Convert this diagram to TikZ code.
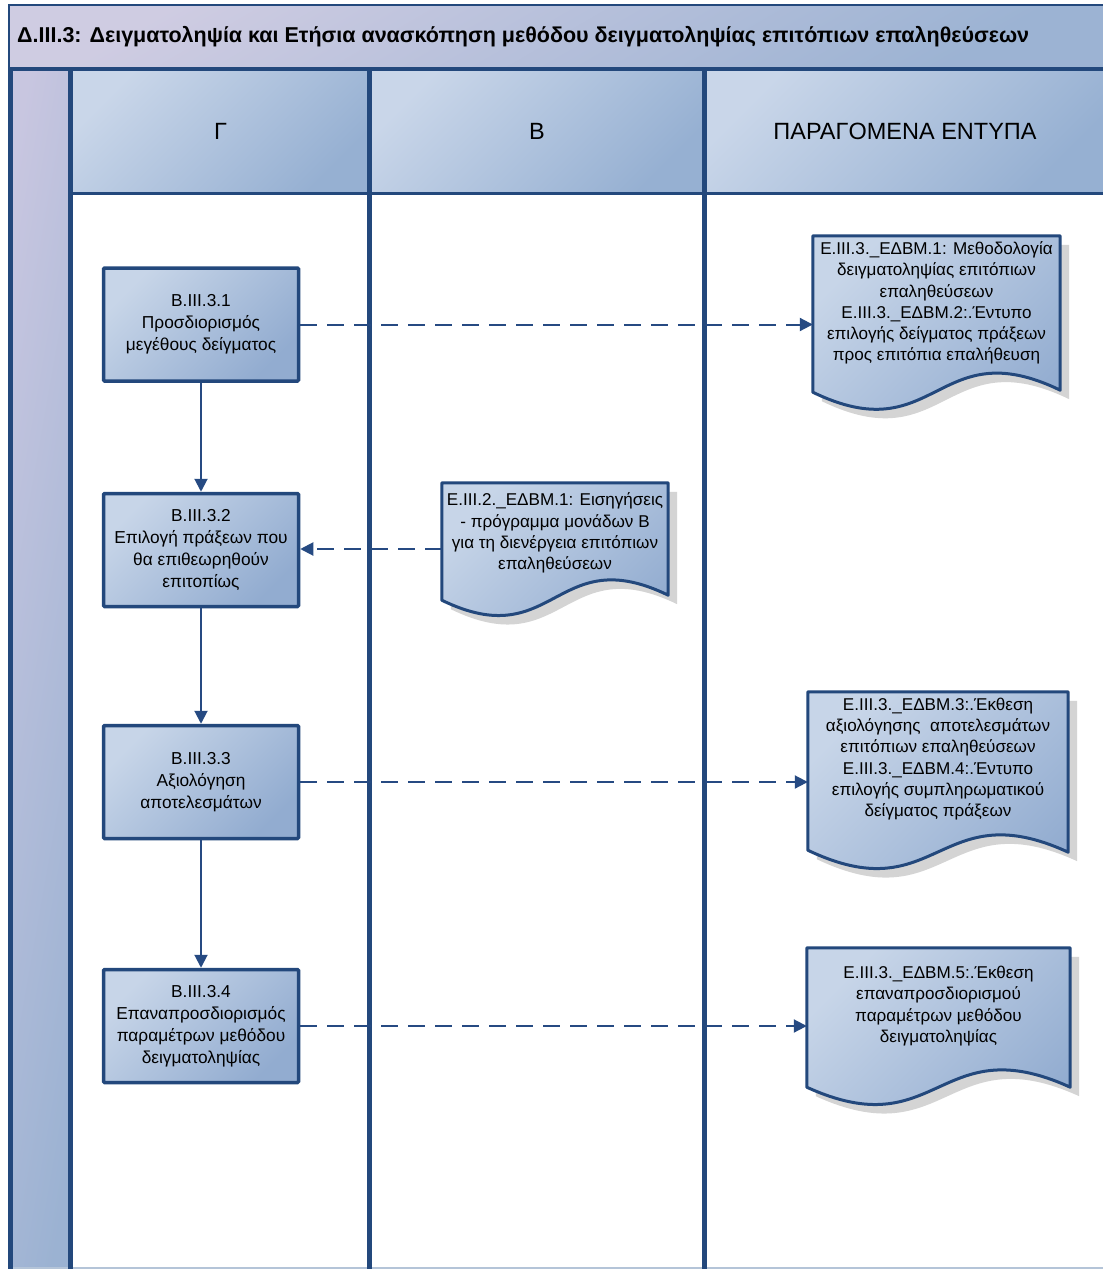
\documentclass[tikz,border=0pt]{standalone}
\usepackage{fontspec}
\setmainfont{Liberation Sans}
\usetikzlibrary{arrows.meta,calc}
\pgfdeclarelayer{bg}
\pgfdeclarelayer{mid}
\pgfsetlayers{bg,mid,main}

\definecolor{frame}{RGB}{35,72,124}
\definecolor{hdlight}{RGB}{201,214,233}
\definecolor{hddark}{RGB}{150,176,210}
\definecolor{lav}{RGB}{207,204,226}
\definecolor{steel}{RGB}{156,179,211}
\definecolor{striplight}{RGB}{200,198,224}
\definecolor{stripdark}{RGB}{155,178,210}
\definecolor{boxlight}{RGB}{199,213,232}
\definecolor{boxdark}{RGB}{146,172,208}
\definecolor{shadowgray}{RGB}{212,212,212}
\definecolor{linkblue}{RGB}{38,74,130}
\definecolor{edgegray}{RGB}{180,196,216}

% document symbol with a wavy lower edge, built around an invisible node
% #1 node, #2 left end lift, #3 right end lift, #4/#5 control point shifts
\newcommand\docshape[5]{%
  \path[fill=shadowgray, transform canvas={shift={(9pt,-9pt)}}]
    (#1.north west) -- (#1.north east) -- ([yshift=#3pt]#1.south east)
    .. controls ([yshift=#4pt]#1.south) and ([yshift=#5pt]#1.south) ..
    ([yshift=#2pt]#1.south west) -- cycle;
  \path[docfill]
    (#1.north west) -- (#1.north east) -- ([yshift=#3pt]#1.south east)
    .. controls ([yshift=#4pt]#1.south) and ([yshift=#5pt]#1.south) ..
    ([yshift=#2pt]#1.south west) -- cycle;
}

\begin{document}
\begin{tikzpicture}[x=1pt,y=-1pt,
  procbox/.style={draw=frame, line width=3.5pt, rounded corners=1pt,
    left color=boxlight, right color=boxdark, shading angle=45,
    minimum width=195pt, minimum height=113pt, align=center,
    font=\fontsize{17.3}{22}\selectfont, inner sep=2pt},
  docnode/.style={minimum width=#1, inner sep=0pt},
  doctext/.style={align=center, font=\fontsize{17.1}{21.2}\selectfont, inner sep=0pt},
  docfill/.style={draw=frame, line width=3pt, line join=round,
    left color=boxlight, right color=boxdark, shading angle=45},
  hdr/.style={left color=hdlight, right color=hddark, shading angle=45,
    inner sep=0pt, minimum height=125pt, font=\fontsize{23.5}{26}\selectfont},
  flow/.style={draw=linkblue, line width=2pt, -{Triangle[length=13pt,width=13pt]}},
  dflow/.style={flow, dash pattern=on 17pt off 10pt},
  rule/.style={draw=frame, line width=#1},
]
\useasboundingbox (0,0) rectangle (1103,1269);

% ---- swimlane frame ----
\begin{pgfonlayer}{bg}
  \fill[white] (0,0) rectangle (1103,1269);
  \shade[left color=lav, right color=steel, shading angle=30] (10,5) rectangle (1103,69);
  \shade[left color=striplight, right color=stripdark, shading angle=80] (10,69) rectangle (71,1269);
  \node[hdr, minimum width=297pt] (hG) at (220.5,131) {Γ};
  \node[hdr, minimum width=336pt] (hB) at (537,131) {Β};
  \node[hdr, minimum width=400pt] (hP) at (905,131) {ΠΑΡΑΓΟΜΕΝΑ ΕΝΤΥΠΑ};
  \node[anchor=west, inner sep=0pt, font=\bfseries\fontsize{21.5}{24}\selectfont]
    (title) at (17,37) {Δ.III.3: Δειγματοληψία και Ετήσια ανασκόπηση μεθόδου δειγματοληψίας επιτόπιων επαληθεύσεων};
  \draw[edgegray, line width=1.5pt] (10,1268.2) -- (1103,1268.2);
  \draw[rule=2pt] (9,5) -- (1103,5);
  \draw[rule=2pt] (9,4) -- (9,69);
  \draw[rule=4.5pt] (10.5,67) -- (10.5,1269);
  \draw[rule=3.5pt] (9,69) -- (1103,69);
  \draw[rule=3.5pt] (71,193.5) -- (1103,193.5);
  \draw[rule=5pt] (70.5,67) -- (70.5,1269);
  \draw[rule=5pt] (369,67) -- (369,1269);
  \draw[rule=5pt] (704.5,67) -- (704.5,1269);
\end{pgfonlayer}

% ---- process steps ----
\node[procbox] (s1) at (201,324.5) {B.III.3.1\\Προσδιορισμός\\μεγέθους δείγματος};
\node[procbox] (s2) at (201,550) {B.III.3.2\\Επιλογή πράξεων που\\θα επιθεωρηθούν\\επιτοπίως};
\node[procbox] (s3) at (201,782) {B.III.3.3\\Αξιολόγηση\\αποτελεσμάτων};
\node[procbox] (s4) at (201,1026) {B.III.3.4\\Επαναπροσδιορισμός\\παραμέτρων μεθόδου\\δειγματοληψίας};

% ---- documents ----
\node[docnode=247pt, minimum height=176pt] (d1) at (936.5,324) {};
\node[docnode=226pt, minimum height=132pt] (d2) at (555,549) {};
\node[docnode=260pt, minimum height=180pt] (d3) at (938,782) {};
\node[docnode=263pt, minimum height=156pt] (d4) at (938.5,1026) {};

\begin{pgfonlayer}{mid}
  \docshape{d1}{20}{22}{82}{-40}
  \docshape{d2}{15}{20}{75}{-40}
  \docshape{d3}{22}{20}{80}{-40}
  \docshape{d4}{17}{17}{77}{-43}
\end{pgfonlayer}

\node[doctext] (t1) at ([yshift=21pt]d1.center)
  {E.III.3.\_ΕΔΒΜ.1: Μεθοδολογία\\δειγματοληψίας επιτόπιων\\επαληθεύσεων\\E.III.3.\_ΕΔΒΜ.2:.Έντυπο\\επιλογής δείγματος πράξεων\\προς επιτόπια επαλήθευση};
\node[doctext] (t2) at ([yshift=16pt]d2.center)
  {E.III.2.\_ΕΔΒΜ.1: Εισηγήσεις\\- πρόγραμμα μονάδων Β\\για τη διενέργεια επιτόπιων\\επαληθεύσεων};
\node[doctext] (t3) at ([yshift=23pt]d3.center)
  {E.III.3.\_ΕΔΒΜ.3:.Έκθεση\\αξιολόγησης\ \ αποτελεσμάτων\\επιτόπιων επαληθεύσεων\\E.III.3.\_ΕΔΒΜ.4:.Έντυπο\\επιλογής συμπληρωματικού\\δείγματος πράξεων};
\node[doctext] (t4) at ([yshift=20pt]d4.center)
  {E.III.3.\_ΕΔΒΜ.5:.Έκθεση\\επαναπροσδιορισμού\\παραμέτρων μεθόδου\\δειγματοληψίας};

% ---- connectors ----
\draw[flow] (s1) -- (s2);
\draw[flow] (s2) -- (s3);
\draw[flow] (s3) -- (s4);
\draw[dflow] (s1.east) -- (s1.east -| d1.west);
\draw[dflow] (d2.west) -- (d2.west -| s2.east);
\draw[dflow] (s3.east) -- (s3.east -| d3.west);
\draw[dflow] (s4.east) -- (s4.east -| d4.west);
\end{tikzpicture}
\end{document}
